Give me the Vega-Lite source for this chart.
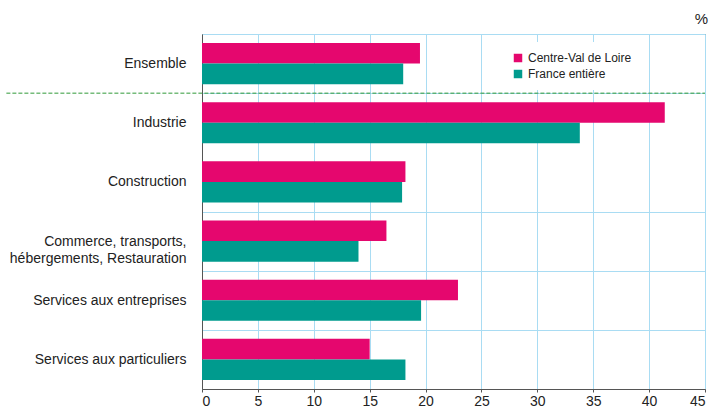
{
  "$schema": "https://vega.github.io/schema/vega-lite/v6.json",
  "autosize": "none",
  "width": 503,
  "height": 355,
  "padding": {"left": 202, "top": 34, "right": 11, "bottom": 18},
  "background": "white",
  "config": {
    "font": "Liberation Sans",
    "view": {"stroke": "#555555", "strokeWidth": 1}
  },
  "title": {"text": "%", "anchor": "end", "frame": "group", "fontSize": 15, "fontWeight": "normal", "color": "#222222", "offset": 0, "dx": 3, "font": "Liberation Sans"},
  "datasets": {
    "main": [
      {"cat": "Ensemble", "serie": "Centre-Val de Loire", "val": 19.5},
      {"cat": "Ensemble", "serie": "France entière", "val": 18.0},
      {"cat": "Industrie", "serie": "Centre-Val de Loire", "val": 41.4},
      {"cat": "Industrie", "serie": "France entière", "val": 33.8},
      {"cat": "Construction", "serie": "Centre-Val de Loire", "val": 18.2},
      {"cat": "Construction", "serie": "France entière", "val": 17.9},
      {"cat": "Commerce, transports,|hébergements, Restauration", "serie": "Centre-Val de Loire", "val": 16.5},
      {"cat": "Commerce, transports,|hébergements, Restauration", "serie": "France entière", "val": 14.0},
      {"cat": "Services aux entreprises", "serie": "Centre-Val de Loire", "val": 22.9},
      {"cat": "Services aux entreprises", "serie": "France entière", "val": 19.6},
      {"cat": "Services aux particuliers", "serie": "Centre-Val de Loire", "val": 15.0},
      {"cat": "Services aux particuliers", "serie": "France entière", "val": 18.2}
    ]
  },
  "layer": [
    {
      "data": {"name": "main"},
      "mark": {"type": "bar"},
      "encoding": {
        "y": {
          "field": "cat", "type": "nominal",
          "scale": {"domain": ["Ensemble", "Industrie", "Construction", "Commerce, transports,|hébergements, Restauration", "Services aux entreprises", "Services aux particuliers"], "paddingInner": 0, "paddingOuter": 0},
          "axis": {
            "title": null,
            "tickBand": "extent",
            "ticks": false,
            "domainColor": "#555555",
            "grid": true,
            "gridColor": {"condition": {"test": "datum.value === 'Industrie'", "value": "transparent"}, "value": "#a9dcf3"},
            "gridWidth": 1,
            "labelExpr": "split(datum.label, '|')",
            "labelFontSize": 14,
            "labelColor": "#222222",
            "labelPadding": 16,
            "labelLineHeight": 17,
            "labelLimit": 300
          }
        },
        "yOffset": {
          "field": "serie", "type": "nominal",
          "scale": {"domain": ["Centre-Val de Loire", "France entière"], "paddingInner": 0, "paddingOuter": 0.44}
        },
        "x": {
          "field": "val", "type": "quantitative",
          "scale": {"domain": [0, 45], "nice": false},
          "axis": {
            "title": null,
            "values": [0, 5, 10, 15, 20, 25, 30, 35, 40, 45],
            "grid": true,
            "gridColor": "#a9dcf3",
            "domainColor": "#555555",
            "tickColor": "#555555",
            "tickSize": 3,
            "labelPadding": 2,
            "labelFontSize": 14,
            "labelColor": "#222222"
          }
        },
        "color": {
          "field": "serie", "type": "nominal",
          "scale": {"domain": ["Centre-Val de Loire", "France entière"], "range": ["#e5076e", "#009b8e"]},
          "legend": {
            "title": null,
            "orient": "none",
            "legendX": 300,
            "legendY": 8,
            "fillColor": "white",
            "padding": 10,
            "symbolType": "square",
            "symbolSize": 72,
            "symbolStrokeWidth": 0,
            "symbolOpacity": 1,
            "labelFontSize": 12,
            "labelColor": "#222222",
            "labelOffset": 4,
            "rowPadding": 4
          }
        }
      }
    },
    {
      "data": {"values": [{"cat": "Ensemble"}]},
      "mark": {"type": "rule", "color": "#2f9a38", "strokeDash": [4, 2], "strokeWidth": 1},
      "encoding": {
        "y": {"field": "cat", "type": "nominal", "bandPosition": 1},
        "x": {"datum": -17.5},
        "x2": {"datum": 45}
      }
    }
  ]
}
